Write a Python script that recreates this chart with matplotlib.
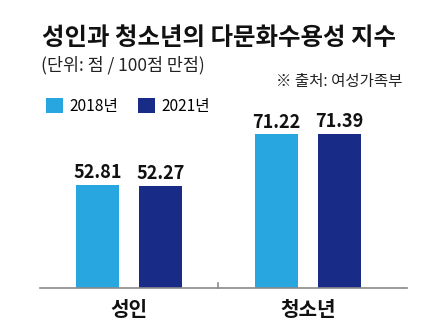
import matplotlib.pyplot as plt
import numpy as np

plt.rcParams['font.family'] = ['Noto Sans CJK KR', 'DejaVu Sans']

# data
groups = ['성인', '청소년']
years = ['2018년', '2021년']
v2018 = [52.81, 71.22]
v2021 = [52.27, 71.39]
colors = ['#27A6DF', '#172B87']

W, H = 433, 327
fig = plt.figure(figsize=(W / 100, H / 100), dpi=100)
ax = fig.add_axes([40 / W, 39 / H, 367 / W, 164 / H])

x = np.arange(len(groups))
bw = 0.24
off = 0.176
b1 = ax.bar(x - off, v2018, bw, color=colors[0], label=years[0])
b2 = ax.bar(x + off, v2021, bw, color=colors[1], label=years[1])
for bars in (b1, b2):
    ax.bar_label(bars, labels=[f'{v:.2f}' for v in bars.datavalues], padding=2,
                 fontsize=13, fontweight='bold', color='#111111', clip_on=False)

ax.set_xlim(-0.497, 1.553)
ax.set_ylim(15, 75)
for s in ['top', 'right', 'left']:
    ax.spines[s].set_visible(False)
ax.spines['bottom'].set_color('#8a8a8a')
ax.spines['bottom'].set_linewidth(1.2)
ax.set_yticks([])
ax.set_xticks(x)
ax.set_xticklabels(groups, fontsize=14.5, fontweight='bold', color='#111111')
ax.tick_params(axis='x', length=0, pad=8)
# divider tick between groups
ax.plot([0.5, 0.5], [15, 16.8], color='#8a8a8a', lw=1.2, clip_on=False)

# titles
fig.text(42 / W, 1 - 38 / H, '성인과 청소년의 다문화수용성 지수', fontsize=17.6,
         fontweight='black', color='#111111', va='center', ha='left')
fig.text(41 / W, 1 - 65 / H, '(단위: 점 / 100점 만점)', fontsize=12.5,
         color='#222222', va='center', ha='left')
fig.text(402 / W, 1 - 81 / H, '※ 출처: 여성가족부', fontsize=11.2,
         color='#222222', va='center', ha='right')

ax.legend(loc='center left', bbox_to_anchor=(46 / W, 1 - 106 / H),
          bbox_transform=fig.transFigure, ncol=2, frameon=False,
          handlelength=1.1, handleheight=1.1, handletextpad=0.4,
          columnspacing=1.3, fontsize=11.2, borderaxespad=0, borderpad=0)

fig.savefig('out.png', dpi=100, facecolor='white')
